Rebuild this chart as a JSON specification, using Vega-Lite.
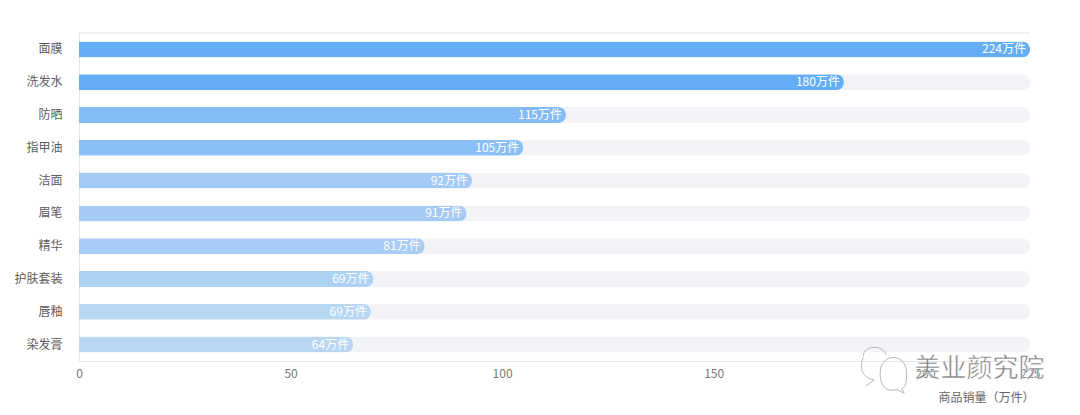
{
  "$schema": "https://vega.github.io/schema/vega-lite/v6.json",
  "width": 951,
  "height": 328,
  "autosize": "none",
  "padding": {"left": 79, "top": 33, "right": 50, "bottom": 54},
  "background": "white",
  "datasets": {
    "sales": [
      {"name": "面膜", "value": 224.78, "label": "224万件", "track": 224.78},
      {"name": "洗发水", "value": 180.8, "label": "180万件", "track": 224.78},
      {"name": "防晒", "value": 115.1, "label": "115万件", "track": 224.78},
      {"name": "指甲油", "value": 105, "label": "105万件", "track": 224.78},
      {"name": "洁面", "value": 92.9, "label": "92万件", "track": 224.78},
      {"name": "眉笔", "value": 91.6, "label": "91万件", "track": 224.78},
      {"name": "精华", "value": 81.7, "label": "81万件", "track": 224.78},
      {"name": "护肤套装", "value": 69.6, "label": "69万件", "track": 224.78},
      {"name": "唇釉", "value": 69, "label": "69万件", "track": 224.78},
      {"name": "染发膏", "value": 64.8, "label": "64万件", "track": 224.78}
    ],
    "mark": [
      {"x": 190.5, "row": 10.25, "text": "美业颜究院", "textx": 197.5}
    ],
    "top": [
      {"from": 0, "to": 224.78, "row": 0}
    ]
  },
  "layer": [
    {
      "data": {"name": "sales"},
      "layer": [
        {
          "mark": {"type": "bar", "height": 16, "color": "#f1f3f6", "cornerRadiusEnd": 8},
          "encoding": {
            "y": {
              "field": "name",
              "type": "nominal",
              "sort": null,
              "title": null,
              "axis": {
                "domainColor": "#e4e6ec",
                "ticks": false,
                "labelPadding": 17,
                "labelColor": "#5c5c5c",
                "labelFontSize": 12,
                "labelFont": "Noto Sans CJK SC"
              }
            },
            "x": {
              "field": "track",
              "type": "quantitative",
              "scale": {"domain": [0, 224.78], "nice": false},
              "title": "商品销量（万件）",
              "axis": {
                "values": [0, 50, 100, 150, 200, 224.78],
                "grid": false,
                "domainColor": "#e4e6ec",
                "ticks": false,
                "labelPadding": 7,
                "labelFlush": false,
                "labelColor": "#777777",
                "labelFontSize": 12,
                "labelFont": "Noto Sans CJK SC",
                "labelOverlap": false,
                "titleColor": "#666666",
                "titleFontSize": 12,
                "titleFontWeight": "normal",
                "titleFont": "Noto Sans CJK SC",
                "titleAlign": "right",
                "titleX": 955,
                "titleY": 31
              }
            }
          }
        },
        {
          "mark": {"type": "bar", "height": 16, "cornerRadiusEnd": 8},
          "encoding": {
            "y": {"field": "name", "type": "nominal", "sort": null},
            "x": {"field": "value", "type": "quantitative"},
            "color": {
              "field": "name",
              "type": "nominal",
              "legend": null,
              "scale": {
                "domain": ["面膜", "洗发水", "防晒", "指甲油", "洁面", "眉笔", "精华", "护肤套装", "唇釉", "染发膏"],
                "range": ["#64aef5", "#63adf5", "#83bbf5", "#8abff6", "#a3caf4", "#a5cbf4", "#a7ccf5", "#aed2f3", "#b8d7f2", "#b9d7f2"]
              }
            }
          }
        },
        {
          "mark": {
            "type": "text",
            "align": "right",
            "baseline": "middle",
            "dx": -4,
            "color": "white",
            "fontSize": 12,
            "font": "Noto Sans CJK SC"
          },
          "encoding": {
            "y": {"field": "name", "type": "nominal", "sort": null},
            "x": {"field": "value", "type": "quantitative"},
            "text": {"field": "label", "type": "nominal"}
          }
        }
      ]
    },
    {
      "layer": [
        {
          "data": {"name": "top"},
          "mark": {"type": "rule", "color": "#e4e6ec"},
          "encoding": {
            "x": {"field": "from", "type": "quantitative"},
            "x2": {"field": "to"},
            "y": {"field": "row", "type": "quantitative", "scale": {"domain": [0, 10], "reverse": true}, "axis": null}
          }
        },
        {
          "data": {"name": "mark"},
          "mark": {
            "type": "point",
            "filled": false,
            "size": 2300,
            "strokeWidth": 1,
            "color": "#9a9a9a",
            "shape": "M-0.9 -0.55 C-0.9 -1 -0.1 -1.05 0.05 -0.6 M-0.45 0.45 C-1.05 0.35 -1.05 -0.2 -0.9 -0.5 M-0.45 0.45 L-0.8 0.7 M-0.2 0.15 C-0.2 -0.7 0.9 -0.7 0.9 0.15 C0.9 0.85 0.75 0.75 0.7 0.8 L0.8 1 L0.5 0.85 C-0.1 1 -0.2 0.5 -0.2 0.15 Z"
          },
          "encoding": {
            "x": {"field": "x", "type": "quantitative"},
            "y": {"field": "row", "type": "quantitative"}
          }
        },
        {
          "data": {"name": "mark"},
          "mark": {
            "type": "text",
            "align": "left",
            "baseline": "middle",
            "fontSize": 26,
            "font": "Noto Sans CJK SC",
            "color": "#7d7d7d",
            "stroke": "white",
            "strokeWidth": 0.5
          },
          "encoding": {
            "x": {"field": "textx", "type": "quantitative"},
            "y": {"field": "row", "type": "quantitative"},
            "text": {"field": "text", "type": "nominal"}
          }
        }
      ]
    }
  ],
  "resolve": {"scale": {"y": "independent"}},
  "config": {"view": {"stroke": null}}
}
